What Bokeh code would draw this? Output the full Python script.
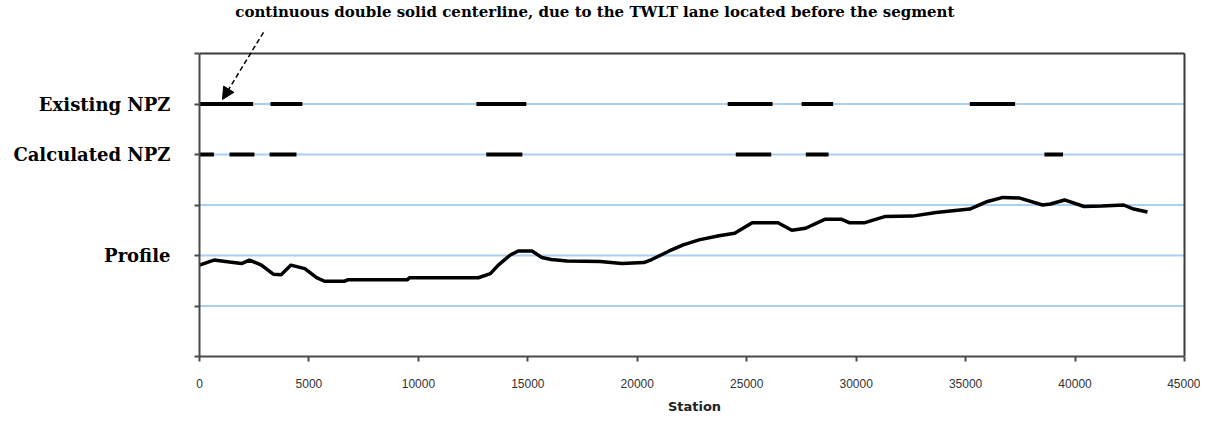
from bokeh.plotting import figure
from bokeh.models import Range1d, FixedTicker, Label, Arrow, NormalHead, ColumnDataSource
from bokeh.embed import file_html
from bokeh.resources import INLINE

# ---- data ----
row_labels = {5: "Existing NPZ", 4: "Calculated NPZ", 2: "Profile"}
x_ticks = [0, 5000, 10000, 15000, 20000, 25000, 30000, 35000, 40000, 45000]
y_ticks = [0, 1, 2, 3, 4, 5, 6]
grid_levels = [1, 2, 3, 4, 5]

existing_start = [0, 3240, 12650, 24130, 27510, 35190]
existing_end = [2450, 4700, 14930, 26180, 28950, 37260]

calc_start = [0, 1370, 3200, 13100, 24500, 27700, 38600]
calc_end = [660, 2510, 4430, 14750, 26120, 28740, 39450]

station = [0, 660, 1370, 1920, 2280, 2830, 3370, 3730, 4180, 4810, 5350, 5710,
           6620, 6800, 9500, 9590, 12740, 13290, 13650, 14200, 14560, 15190,
           15640, 16070, 16800, 18300, 19300, 20300, 20660, 21460, 22100, 22820,
           23730, 24450, 25250, 26430, 27060, 27690, 28590, 29310, 29680, 30400,
           31300, 32570, 33650, 35190, 36000, 36710, 37440, 38520, 38880, 39520,
           40410, 41230, 42220, 42680, 43310]
profile = [1.81, 1.91, 1.87, 1.84, 1.91, 1.81, 1.63, 1.62, 1.81, 1.74, 1.56, 1.49,
           1.49, 1.52, 1.52, 1.56, 1.56, 1.64, 1.81, 2.01, 2.09, 2.09,
           1.96, 1.92, 1.89, 1.88, 1.84, 1.86, 1.92, 2.09, 2.21, 2.31,
           2.39, 2.44, 2.65, 2.65, 2.50, 2.54, 2.72, 2.72, 2.65, 2.65,
           2.77, 2.78, 2.85, 2.92, 3.07, 3.15, 3.14, 3.00, 3.02, 3.10,
           2.97, 2.98, 3.00, 2.92, 2.86]

existing_level = 5
calc_level = 4
x_max = 45000
y_max = 6

title_text = "continuous double solid centerline, due to the TWLT lane located  before the segment"
x_label = "Station"

# ---- figure ----
px_per_x = 985 / 45000.0
x_end = x_max + 5 / px_per_x
y_top = y_max + 49 / 50.5

p = figure(width=1200, height=420, x_range=Range1d(0, x_end), y_range=Range1d(0, y_top),
           output_backend="svg", toolbar_location=None,
           min_border_left=199, min_border_right=11, min_border_top=4, min_border_bottom=64)
p.background_fill_color = "white"
p.border_fill_color = "white"
p.outline_line_color = None

p.xgrid.visible = False
p.ygrid.visible = False

# gridlines (light blue)
p.segment(x0=[0] * len(grid_levels), x1=[x_max] * len(grid_levels),
          y0=grid_levels, y1=grid_levels, line_color="#a9cff2", line_width=2)

# frame top & right
p.segment(x0=[0, x_max], y0=[y_max, 0], x1=[x_max, x_max], y1=[y_max, y_max],
          line_color="#3a3a3a", line_width=2)

# x axis
p.xaxis.ticker = FixedTicker(ticks=x_ticks)
p.xaxis.bounds = (0, x_max)
p.xaxis.axis_label = x_label
p.xaxis.axis_label_text_font = "DejaVu Sans"
p.xaxis.axis_label_text_font_style = "bold"
p.xaxis.axis_label_text_font_size = "13px"
p.xaxis.axis_label_text_color = "#222222"
p.xaxis.axis_label_standoff = 8
p.xaxis.major_label_text_font = "Liberation Sans"
p.xaxis.major_label_text_font_size = "12px"
p.xaxis.major_label_text_color = "#333333"
p.xaxis.major_label_standoff = 17
p.xaxis.major_tick_in = 0
p.xaxis.major_tick_out = 5
p.xaxis.minor_tick_line_color = None
p.xaxis.axis_line_color = "#4a4a4a"
p.xaxis.axis_line_width = 2
p.xaxis.major_tick_line_color = "#4a4a4a"
p.xaxis.major_tick_line_width = 2

# y axis
p.yaxis.ticker = FixedTicker(ticks=y_ticks)
p.yaxis.bounds = (0, y_max)
p.yaxis.major_label_overrides = {t: row_labels.get(t, "") for t in y_ticks}
p.yaxis.major_label_text_font = "DejaVu Serif"
p.yaxis.major_label_text_font_style = "bold"
p.yaxis.major_label_text_font_size = "18px"
p.yaxis.major_label_text_color = "black"
p.yaxis.major_label_standoff = 24
p.yaxis.major_tick_in = 0
p.yaxis.major_tick_out = 5
p.yaxis.minor_tick_line_color = None
p.yaxis.axis_line_color = "#4a4a4a"
p.yaxis.axis_line_width = 2
p.yaxis.major_tick_line_color = "#4a4a4a"
p.yaxis.major_tick_line_width = 2

# NPZ segments
src_e = ColumnDataSource(dict(x0=existing_start, x1=existing_end,
                              y=[existing_level] * len(existing_start)))
src_c = ColumnDataSource(dict(x0=calc_start, x1=calc_end,
                              y=[calc_level] * len(calc_start)))
p.segment(x0="x0", y0="y", x1="x1", y1="y", source=src_e, line_color="black", line_width=4)
p.segment(x0="x0", y0="y", x1="x1", y1="y", source=src_c, line_color="black", line_width=4)

# profile
p.line(station, profile, line_color="black", line_width=3.5)

# title and arrow
p.add_layout(Label(x=18180, y=6.83, text=title_text, text_align="center",
                   text_baseline="middle", text_font="DejaVu Serif",
                   text_font_style="bold", text_font_size="15px", text_color="black"))
p.add_layout(Arrow(x_start=2924, y_start=6.42, x_end=1051, y_end=5.09,
                   line_color="black", line_width=1.5, line_dash="5 3",
                   end=NormalHead(size=12, fill_color="black", line_color="black")))

open("out.html", "w").write(file_html(p, INLINE))
